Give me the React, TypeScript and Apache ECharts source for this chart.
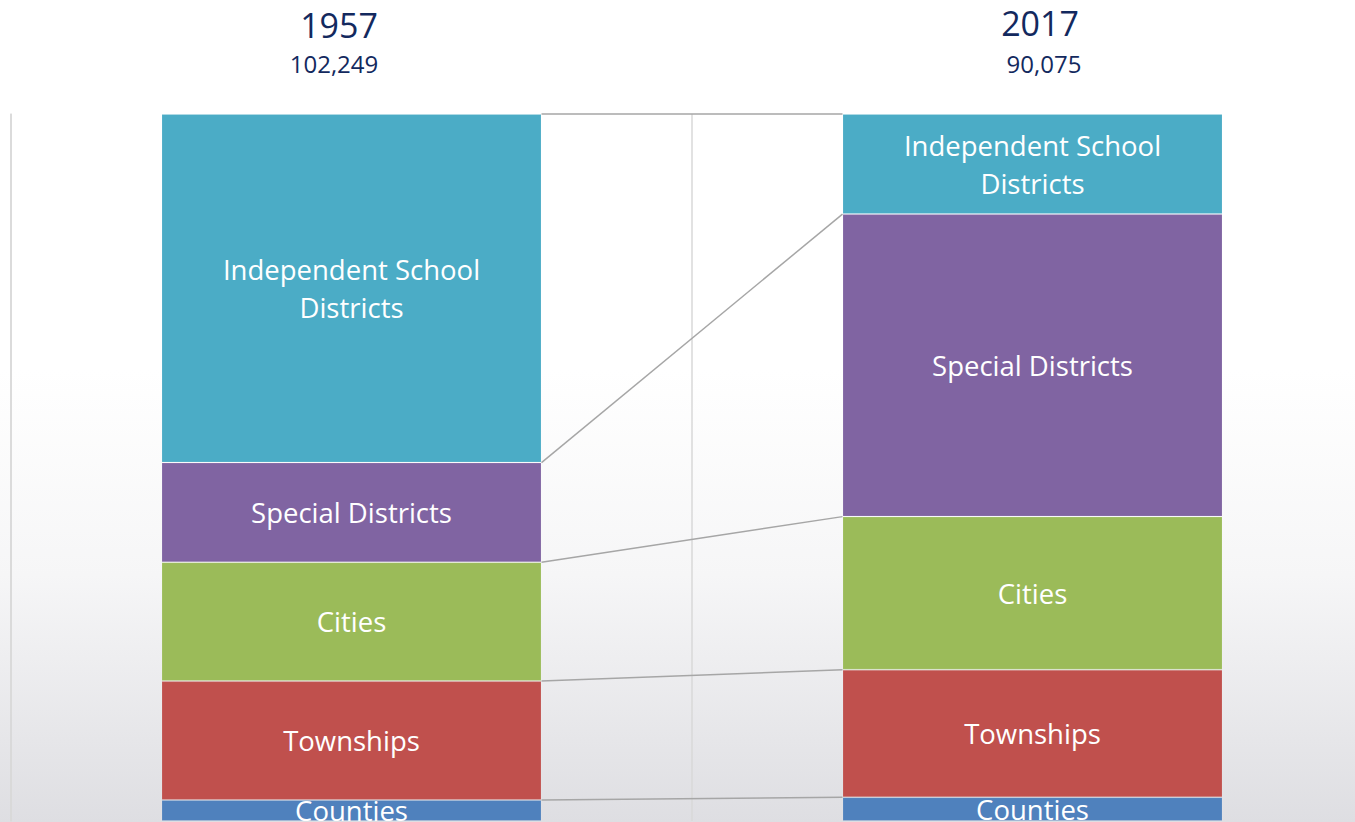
import React, { useEffect, useRef } from "react";
import * as echarts from "echarts";

const years = ["1957", "2017"];
const totalsText = ["102,249", "90,075"];
// bottom → top
const seriesNames = ["Counties", "Townships", "Cities", "Special Districts", "Independent School Districts"];
const labelTexts = ["Counties", "Townships", "Cities", "Special Districts", "Independent School\nDistricts"];
const colors = ["#4F81BD", "#C0504D", "#9BBB59", "#8064A2", "#4BACC6"];
const values1957 = [3050, 17198, 17215, 14424, 50454];
const values2017 = [3031, 16253, 19495, 38542, 12754];

const FONT = "'Open Sans', 'Noto Sans', sans-serif";

export default function App() {
  const ref = useRef<HTMLDivElement>(null);
  useEffect(() => {
    if (!ref.current) return;
    const chart = echarts.init(ref.current, undefined, { renderer: "svg" });
    const t1 = values1957.reduce((a, b) => a + b, 0);
    const t2 = values2017.reduce((a, b) => a + b, 0);
    const p1 = values1957.map((v) => (v / t1) * 100);
    const p2 = values2017.map((v) => (v / t2) * 100);
    const lines: number[][] = [];
    let c1 = 0;
    let c2 = 0;
    for (let i = 0; i < p1.length; i++) {
      c1 += p1[i];
      c2 += p2[i];
      lines.push([0, c1, c2]);
    }
    const BAR_FRAC = 0.558;
    const barSeries = seriesNames.map((name, i) => ({
      name,
      type: "bar",
      stack: "total",
      barWidth: "55.8%",
      data: [p1[i], p2[i]],
      itemStyle: { color: colors[i], borderColor: "rgba(255,255,255,0.12)", borderWidth: 1 },
      label: {
        show: true,
        position: "inside",
        formatter: () => labelTexts[i],
        color: "#ffffff",
        fontSize: 27.5,
        lineHeight: 38,
        fontFamily: FONT,
      },
      z: 3,
    }));
    chart.setOption({
      animation: false,
      grid: { left: 11, right: 0, top: 114, bottom: 1, containLabel: false },
      xAxis: {
        type: "category",
        data: years,
        axisLine: { show: false },
        axisTick: { show: false },
        axisLabel: { show: false },
        splitLine: { show: true, lineStyle: { color: "#d9d9d9", width: 1.5 } },
      },
      yAxis: {
        type: "value",
        min: 0,
        max: 100,
        axisLine: { show: true, lineStyle: { color: "#d9d9d9", width: 1.5 } },
        axisTick: { show: false },
        axisLabel: { show: false },
        splitLine: { show: false },
      },
      series: [
        ...barSeries,
        {
          type: "custom",
          data: lines,
          encode: { x: 0, y: [1, 2] },
          clip: false,
          z: 2,
          renderItem: (params: any, api: any) => {
            const a = api.coord([0, api.value(1)]);
            const b = api.coord([1, api.value(2)]);
            const half = (api.size([1, 0])[0] * BAR_FRAC) / 2;
            return {
              type: "line",
              shape: { x1: a[0] + half, y1: a[1], x2: b[0] - half, y2: b[1] },
              style: { stroke: "#a6a6a6", lineWidth: 1.5 },
            };
          },
        },
      ],
      graphic: [
        ...years.map((y, i) => ({
          type: "text",
          x: i === 0 ? 339 : 1040,
          y: i === 0 ? 25 : 23,
          style: {
            text: y,
            fill: "#13295e",
            font: `34px ${FONT}`,
            textAlign: "center",
            textVerticalAlign: "middle",
          },
        })),
        ...totalsText.map((t, i) => ({
          type: "text",
          x: i === 0 ? 334 : 1044,
          y: 63,
          style: {
            text: t,
            fill: "#13295e",
            font: `24px ${FONT}`,
            textAlign: "center",
            textVerticalAlign: "middle",
          },
        })),
      ],
    });
    return () => chart.dispose();
  }, []);
  return (
    <div
      style={{
        position: "fixed",
        left: 0,
        top: 0,
        width: 1355,
        height: 822,
        overflow: "hidden",
        background:
          "linear-gradient(to bottom, #ffffff 0%, #ffffff 45%, #f6f6f7 70%, #dedee2 100%)",
      }}
    >
      <div ref={ref} style={{ width: 1373, height: 822 }} />
    </div>
  );
}
